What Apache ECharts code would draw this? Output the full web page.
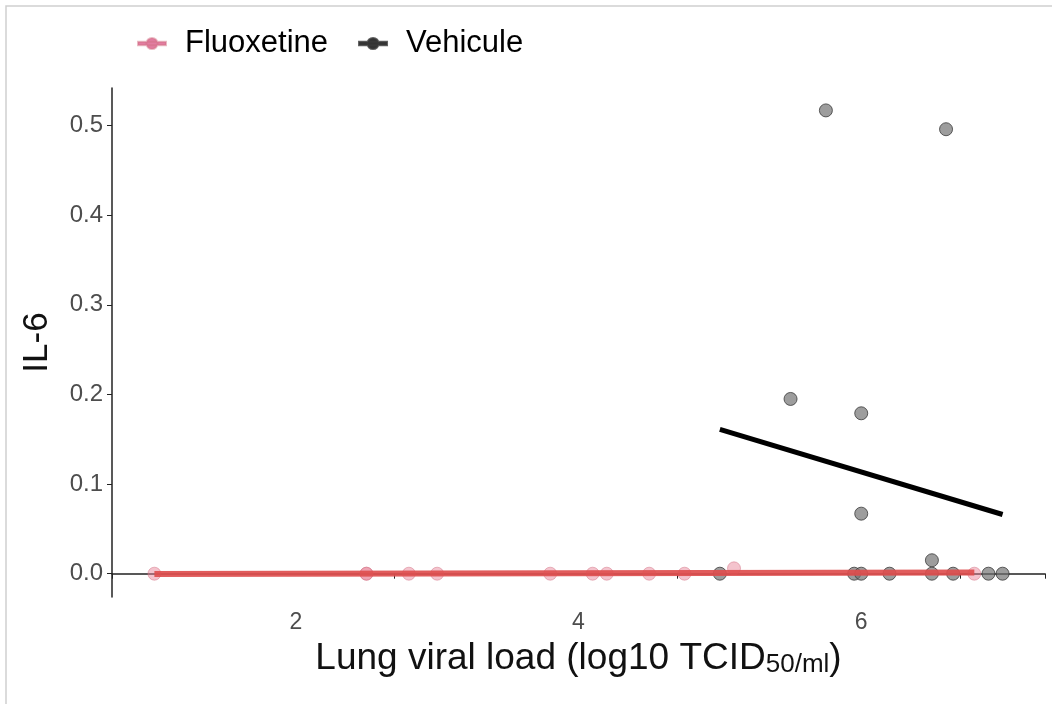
<!DOCTYPE html>
<html>
<head>
<meta charset="utf-8">
<script src="https://cdn.jsdelivr.net/npm/echarts@6/dist/echarts.min.js"></script>
<style>
  html, body { margin: 0; padding: 0; background: #fff; }
  #chart { width: 1052px; height: 704px; }
</style>
</head>
<body>
<div id="chart"></div>
<script>
// Lung viral load (log10 TCID50/ml) vs IL-6, per treatment group
const fluoxetineX = [1.0, 2.5, 2.5, 2.8, 3.0, 3.8, 4.1, 4.2, 4.5, 4.75, 5.1, 6.8];
const fluoxetineY = [0.0, 0.0, 0.0, 0.0, 0.0, 0.0, 0.0, 0.0, 0.0, 0.0, 0.006, 0.0];

const vehiculeX = [5.0, 5.5, 5.75, 5.95, 6.0, 6.0, 6.0, 6.2, 6.5, 6.5, 6.6, 6.65, 6.9, 7.0];
const vehiculeY = [0.0, 0.195, 0.517, 0.0, 0.0, 0.179, 0.067, 0.0, 0.015, 0.0, 0.496, 0.0, 0.0, 0.0];

const xTicks = [2, 4, 6];
const yTicks = [0.0, 0.1, 0.2, 0.3, 0.4, 0.5];

const FLUO_POINT = 'rgba(232, 130, 150, 0.6)';
const FLUO_LINE = 'rgba(222, 78, 78, 0.92)';
const VEH_POINT = 'rgba(112, 112, 112, 0.85)';

// legend key: a short line segment with a point on it
const KEY_ICON = 'path://M0,5H30V9H0Z M15,1A6,6 0 1,1 15,13A6,6 0 1,1 15,1Z';

function pairs(xs, ys) { return xs.map((x, i) => [x, ys[i]]); }

// ordinary least-squares fit, drawn over the observed x range
function fitLine(xs, ys) {
  const n = xs.length;
  const mx = xs.reduce((a, b) => a + b, 0) / n;
  const my = ys.reduce((a, b) => a + b, 0) / n;
  let sxy = 0, sxx = 0;
  for (let i = 0; i < n; i++) {
    sxy += (xs[i] - mx) * (ys[i] - my);
    sxx += (xs[i] - mx) * (xs[i] - mx);
  }
  const b = sxy / sxx, a = my - b * mx;
  const lo = Math.min(...xs), hi = Math.max(...xs);
  return [[lo, a + b * lo], [hi, a + b * hi]];
}

const chart = echarts.init(document.getElementById('chart'), null, { renderer: 'canvas' });
const fontFam = '"Liberation Sans", Arial, sans-serif';

chart.setOption({
  backgroundColor: '#ffffff',
  animation: false,
  textStyle: { fontFamily: fontFam },
  graphic: [{
    type: 'rect', shape: { x: 6, y: 6, width: 1100, height: 800 },
    style: { fill: 'none', stroke: '#cfcfcf', lineWidth: 1.5 }, silent: true
  }],
  legend: {
    left: 132, top: 23, itemWidth: 28, itemHeight: 13, itemGap: 30,
    icon: KEY_ICON,
    textStyle: { fontSize: 31, color: '#000', fontFamily: fontFam, padding: [0, 0, 0, 14] },
    data: [
      { name: 'Fluoxetine', itemStyle: { color: '#d95c8a' } },
      { name: 'Vehicule', itemStyle: { color: '#000' } }
    ]
  },
  grid: { left: 112, right: 7, top: 88, bottom: 107, containLabel: false },
  xAxis: {
    type: 'value', min: 0.7, max: 7.3, interval: 2,
    name: '{m|Lung viral load (log10 TCID}{s|50/ml}{m|)}',
    nameLocation: 'middle', nameGap: 42,
    nameTextStyle: {
      rich: {
        m: { fontSize: 37, color: '#111', fontFamily: fontFam },
        s: { fontSize: 26, color: '#111', fontFamily: fontFam, padding: [13, 0, 0, 0] }
      }
    },
    axisLine: { show: true, lineStyle: { color: '#222', width: 1.5 } },
    axisTick: { show: true, length: 5, lineStyle: { color: '#222' } },
    axisLabel: {
      fontSize: 23, color: '#4d4d4d', margin: 14,
      customValues: xTicks, formatter: v => String(v)
    },
    splitLine: { show: false }
  },
  yAxis: {
    type: 'value', min: -0.026, max: 0.542,
    name: 'IL-6', nameLocation: 'middle', nameGap: 57, nameRotate: 90,
    nameTextStyle: { fontSize: 35, color: '#111', fontFamily: fontFam },
    axisLine: { show: true, lineStyle: { color: '#222', width: 1.5 } },
    axisTick: { show: true, length: 5, lineStyle: { color: '#222' }, customValues: yTicks },
    axisLabel: {
      fontSize: 24, color: '#4d4d4d', margin: 9,
      customValues: yTicks, formatter: v => v.toFixed(1)
    },
    splitLine: { show: false }
  },
  series: [
    {
      name: 'Vehicule', type: 'scatter', symbolSize: 13, z: 2,
      itemStyle: { color: VEH_POINT, borderColor: '#3a3a3a', borderWidth: 1 },
      data: pairs(vehiculeX, vehiculeY)
    },
    {
      name: 'Fluoxetine', type: 'scatter', symbolSize: 13, z: 3,
      itemStyle: { color: FLUO_POINT, borderColor: 'rgba(210,110,130,0.6)', borderWidth: 1 },
      data: pairs(fluoxetineX, fluoxetineY)
    },
    {
      name: 'Vehicule', type: 'line', z: 4, symbol: 'none',
      lineStyle: { color: '#000', width: 5 },
      data: fitLine(vehiculeX, vehiculeY)
    },
    {
      name: 'Fluoxetine', type: 'line', z: 5, symbol: 'none',
      lineStyle: { color: FLUO_LINE, width: 6 },
      data: fitLine(fluoxetineX, fluoxetineY)
    }
  ]
});
</script>
</body>
</html>
